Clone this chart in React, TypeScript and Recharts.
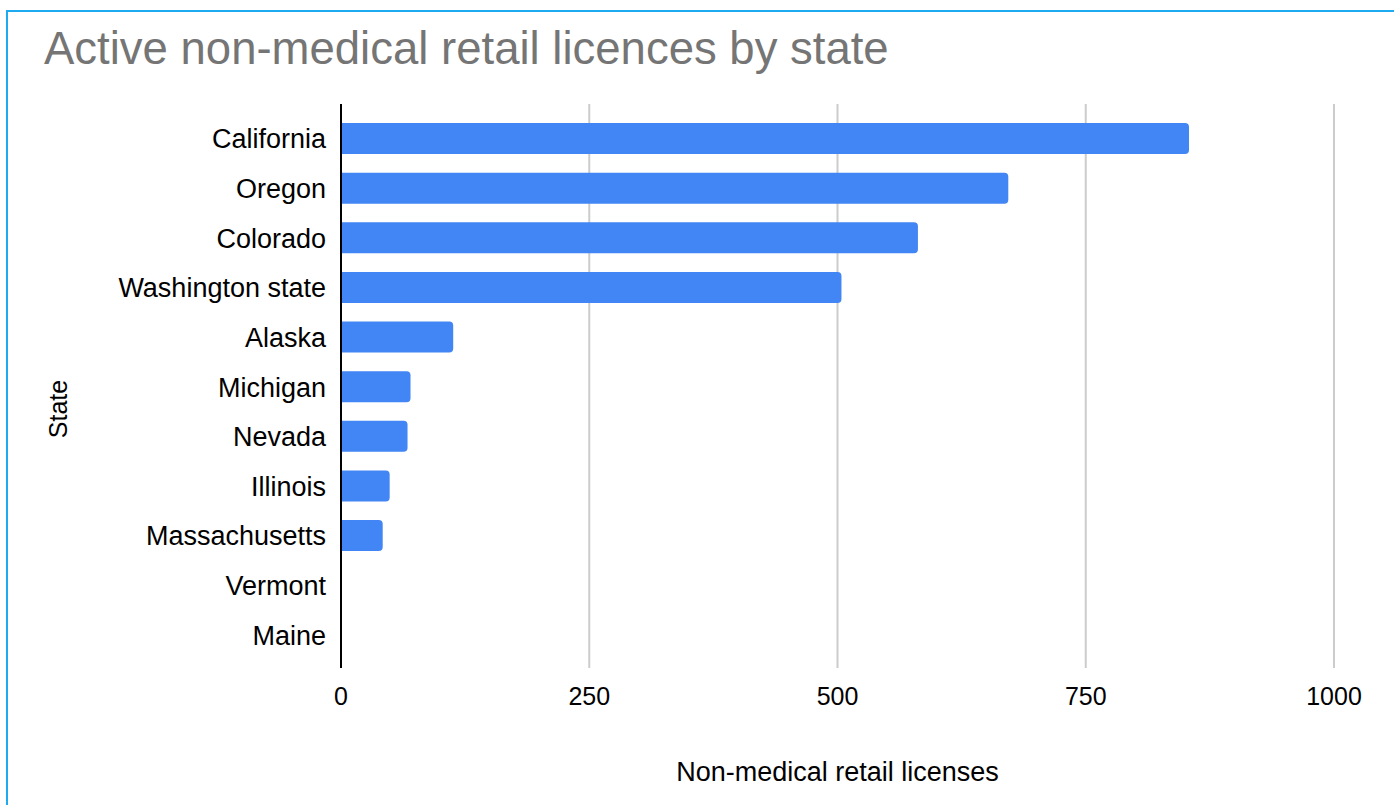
import { Bar, BarChart, CartesianGrid, XAxis, YAxis } from "recharts";

const states = [
  "California",
  "Oregon",
  "Colorado",
  "Washington state",
  "Alaska",
  "Michigan",
  "Nevada",
  "Illinois",
  "Massachusetts",
  "Vermont",
  "Maine",
];
const licenses = [854, 672, 581, 504, 113, 70, 67, 49, 42, 0, 0];
const xTicks = [0, 250, 500, 750, 1000];

const data = states.map((state, i) => ({ state, licenses: licenses[i] }));

const FONT = "'Liberation Sans', Arial, sans-serif";

const App = () => {
  return (
    <div style={{ position: "absolute", top: 0, left: 0, width: 1394, height: 805, background: "#fff", fontFamily: FONT }}>
      <div
        style={{
          position: "absolute",
          top: 10,
          left: 6,
          width: 1394,
          height: 805,
          borderTop: "2px solid #1EAAF1",
          borderLeft: "2px solid #1EAAF1",
        }}
      />
      <div style={{ position: "absolute", top: 26, left: 44, fontSize: 45.5, lineHeight: 1, color: "#757575" }}>
        Active non-medical retail licences by state
      </div>
      <BarChart
        width={1394}
        height={805}
        data={data}
        layout="vertical"
        margin={{ top: 104, right: 60, bottom: 0, left: 0 }}
        barCategoryGap={0}
      >
        <CartesianGrid horizontal={false} stroke="#cccccc" strokeWidth={2} />
        <XAxis
          type="number"
          domain={[0, 1000]}
          ticks={xTicks}
          axisLine={false}
          tickLine={false}
          tickSize={0}
          tickMargin={19}
          height={137}
          tick={{ fill: "#000", fontSize: 25, fontFamily: FONT }}
          label={{ value: "Non-medical retail licenses", position: "insideBottom", offset: 24, fill: "#000", fontSize: 27, fontFamily: FONT }}
        />
        <YAxis
          type="category"
          dataKey="state"
          width={341}
          padding={{ top: 10, bottom: 8 }}
          axisLine={{ stroke: "#000", strokeWidth: 2 }}
          tickLine={false}
          tickSize={0}
          tickMargin={15}
          interval={0}
          tick={{ fill: "#000", fontSize: 27, fontFamily: FONT }}
          label={{ value: "State", angle: -90, position: "center", dx: -112, dy: 23, fill: "#000", fontSize: 25, fontFamily: FONT }}
        />
        <Bar dataKey="licenses" fill="#4285F4" barSize={31} radius={[0, 4, 4, 0]} isAnimationActive={false} />
      </BarChart>
    </div>
  );
};

export default App;
